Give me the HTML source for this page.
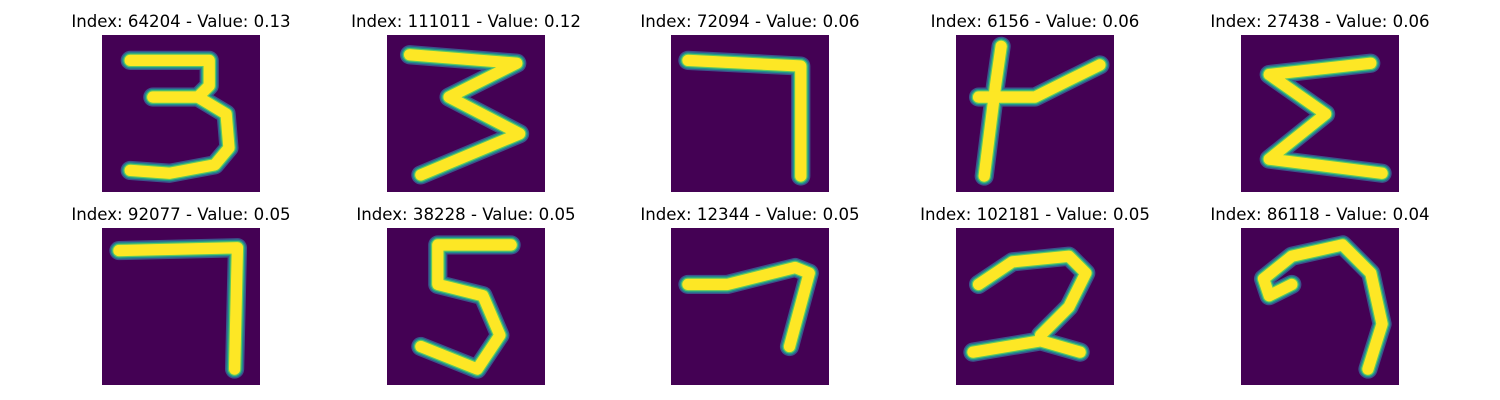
<!DOCTYPE html>
<html><head><meta charset="utf-8">
<style>
html,body{margin:0;padding:0;background:#fff;}
svg{display:block;}
text{font-family:"DejaVu Sans","Liberation Sans",sans-serif;font-size:16.6px;fill:#000;}
</style></head>
<body>
<svg id="chart" width="1500" height="400" viewBox="0 0 1500 400"></svg>
<script>
const indices = [64204, 111011, 72094, 6156, 27438, 92077, 38228, 12344, 102181, 86118];
const values = ["0.13", "0.12", "0.06", "0.06", "0.06", "0.05", "0.05", "0.05", "0.05", "0.04"];
const strokes = [
  [[[5,4.5],[19,4.5],[19,9],[17,11],[9,11]],[[17,11],[22,14],[22.5,20],[20,23],[12,24.5],[5,24]]],
  [[[4,3.5],[23,5],[11,11],[23.5,17.5],[6,24.8]]],
  [[[3,4.5],[23,5.5],[23,25]]],
  [[[8,2],[7,9],[5,25]],[[4,11],[14,11],[20,8],[25.5,5.3]]],
  [[[23,5],[5,7],[15,14],[5,22],[25,24.5]]],
  [[[3,4],[24,3.5],[23.5,25]]],
  [[[22,3],[9,3],[9,10],[17,12],[20,19],[16,25],[6,21]]],
  [[[3,10],[10,10],[22,7],[24.5,8],[21,21]]],
  [[[4,10],[10,6],[20,5],[23,8],[20,14],[15,19]],[[3,22],[15,20],[22,22]]],
  [[[9,10],[5,12],[4,9],[9,5],[18,3],[23,8],[25,17],[22.5,25]]]
];
const colX = [102, 387, 671, 956, 1241];
const rowY = [35, 228];
const size = 158;
const svg = document.getElementById('chart');
const NS = 'http://www.w3.org/2000/svg';
function sx(u, x0){return x0 + u * size / 28;}
function sy(u, y0){return y0 + u * size / 28;}
indices.forEach((idx, i) => {
  const x0 = colX[i % 5], y0 = rowY[Math.floor(i / 5)];
  const g = document.createElementNS(NS, 'g');
  
  
  const t = document.createElementNS(NS, 'text');
  
  
  t.setAttribute('x', x0 + size / 2);
  t.setAttribute('y', y0 - 8);
  t.setAttribute('text-anchor', 'middle');
  t.textContent = 'Index: ' + idx + ' - Value: ' + values[i];
  g.appendChild(t);
  const r = document.createElementNS(NS, 'rect');
  
  
  r.setAttribute('x', x0); r.setAttribute('y', y0);
  r.setAttribute('width', size); r.setAttribute('height', size - 1);
  r.setAttribute('fill', '#440154');
  g.appendChild(r);
  const layers = [['#3b528b', 3.4], ['#21918c', 2.9], ['#5ec962', 2.4], ['#fde725', 2.0]];
  layers.forEach(([col, w]) => {
    strokes[i].forEach(line => {
      const p = document.createElementNS(NS, 'polyline');
      
      
      p.setAttribute('points', line.map(q => sx(q[0], x0) + ',' + sy(q[1], y0)).join(' '));
      p.setAttribute('fill', 'none');
      p.setAttribute('stroke', col);
      p.setAttribute('stroke-width', w * size / 28);
      p.setAttribute('stroke-linejoin', 'round');
      p.setAttribute('stroke-linecap', 'round');
      g.appendChild(p);
    });
  });
  svg.appendChild(g);
});
</script>
</body></html>
